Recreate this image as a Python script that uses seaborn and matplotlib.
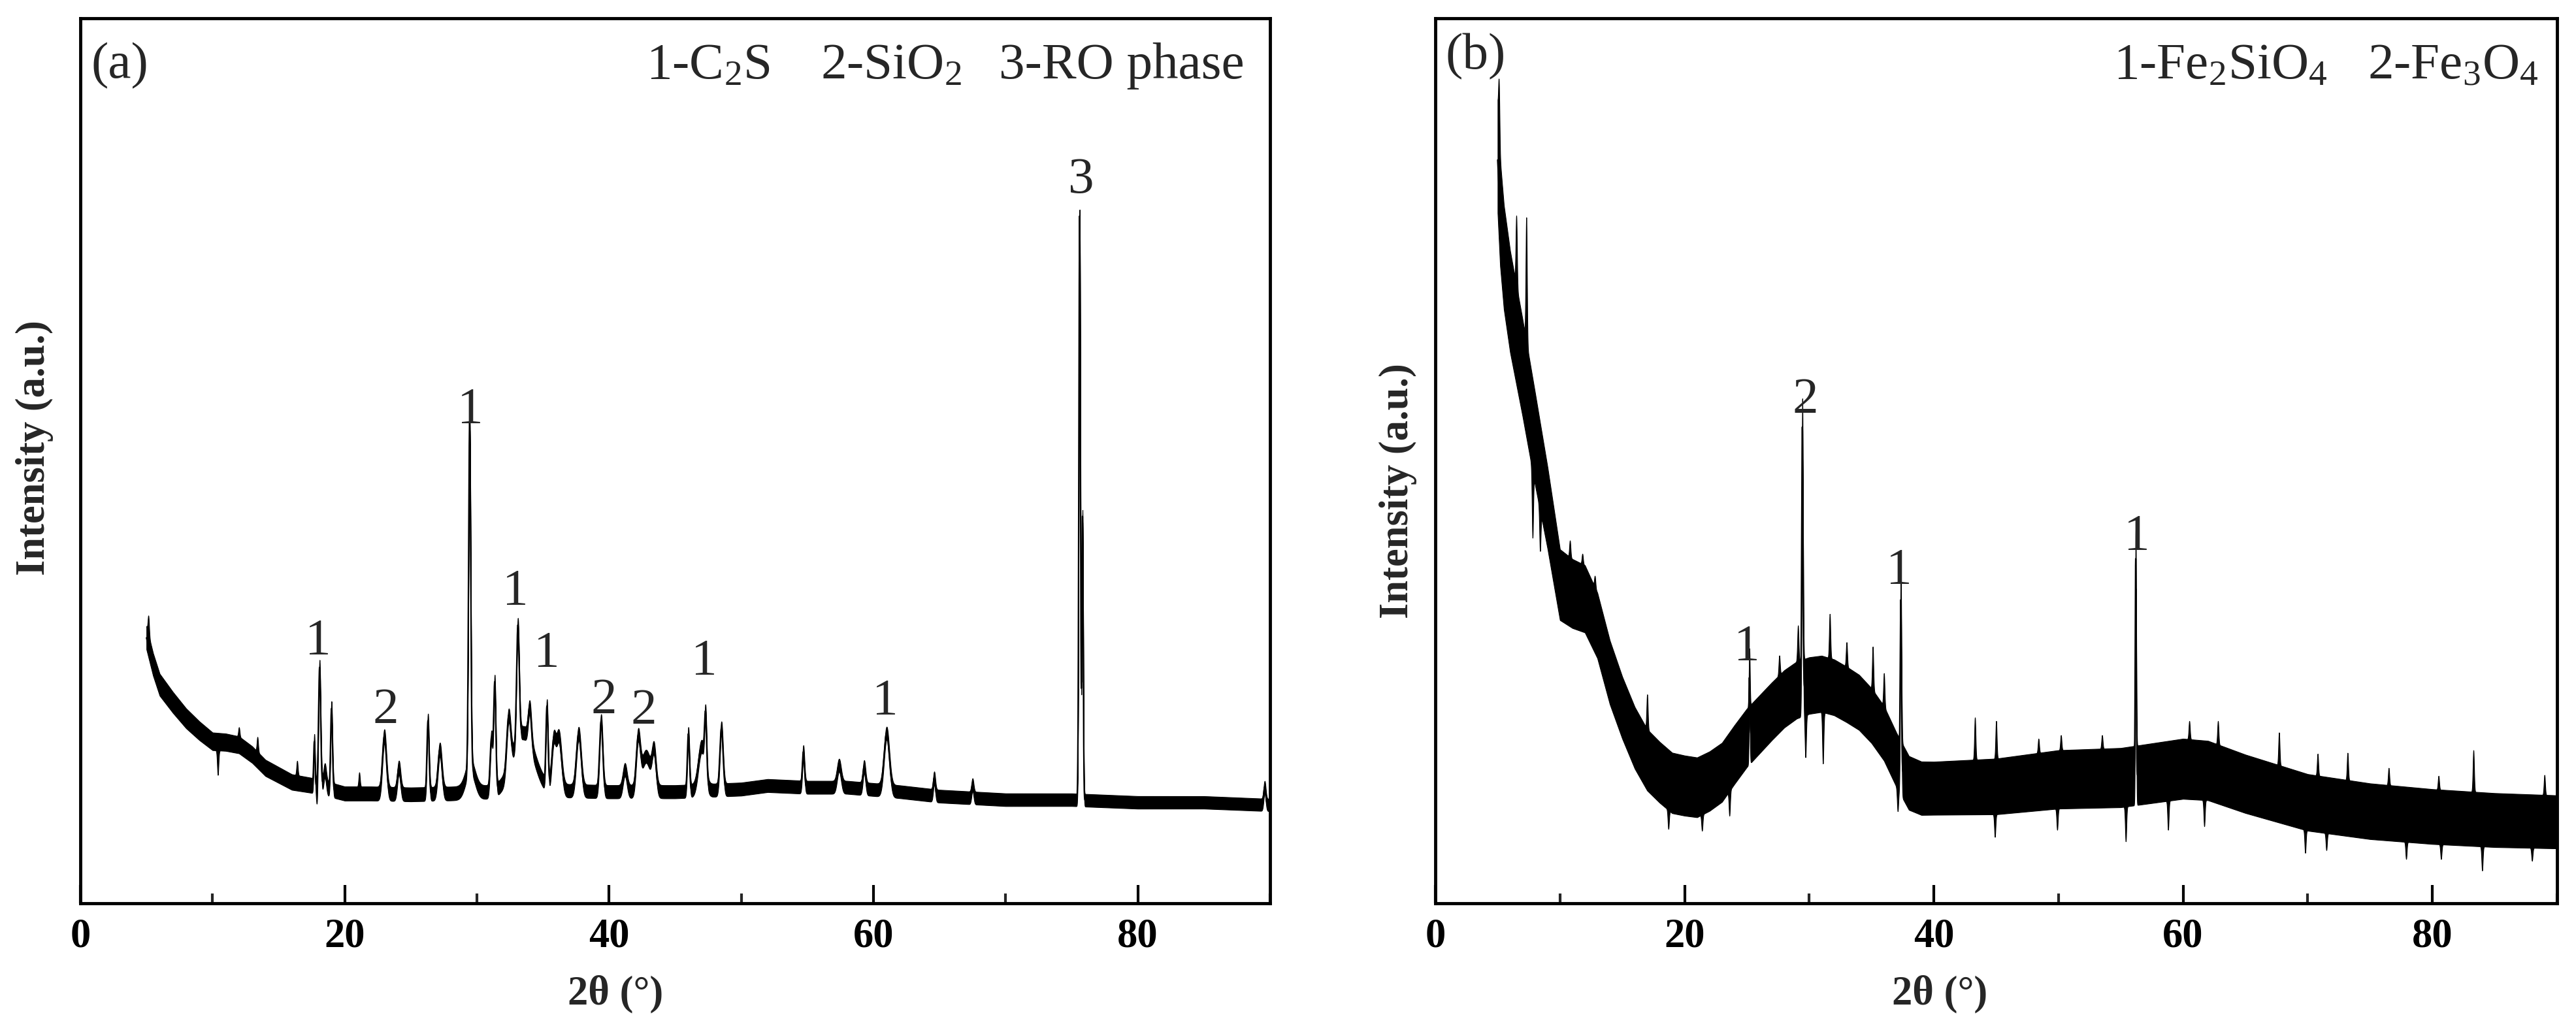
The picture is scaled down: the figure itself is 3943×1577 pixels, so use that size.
import numpy as np
import pandas as pd
import seaborn as sns
import matplotlib.pyplot as plt
from matplotlib.ticker import MultipleLocator

# ---------------- panel (a) ----------------
# baseline (centre of the noisy trace)
a_base_x = [5.0, 5.5, 6, 7, 8, 9, 10, 11, 12, 13, 14, 16, 18, 20, 22, 25, 28, 30, 34,
            40, 45, 50, 52, 55, 58, 62, 65, 70, 75, 80, 85, 90]
a_base_y = [30.0, 27.0, 24.7, 22.7, 20.9, 19.5, 18.3, 18.2, 17.9, 16.8, 15.3, 13.7,
            13.2, 12.4, 12.4, 12.3, 12.4, 12.5, 12.8, 12.6, 12.6, 12.9, 13.3, 13.1,
            13.1, 12.6, 12.1, 11.7, 11.7, 11.4, 11.4, 11.1]
a_noise_x = [5, 10, 20, 40, 90]
a_noise = [1.3, 1.0, 0.8, 0.75, 0.7]
# peaks: position (2theta), height above baseline, width
a_peak_pos = [17.7, 18.1, 18.5, 19.0, 23.0, 24.1, 26.3, 27.2, 29.45, 29.5, 31.1, 31.35,
              32.4, 33.1, 33.5, 34.0, 35.3, 35.8, 36.2, 37.7, 39.4, 41.2, 42.2, 42.8,
              43.4, 46.0, 47.0, 47.3, 48.5, 54.7, 57.4, 59.3, 61.0, 64.6, 67.5, 75.6,
              75.82, 89.6]
a_peak_h = [5.0, 13.5, 2.0, 9.2, 6.5, 3.0, 8.3, 5.0, 39.0, 3.0, 6.0, 12.0,
            6.0, 13.0, 6.5, 4.0, 9.0, 5.0, 6.0, 6.5, 8.0, 2.5, 5.5, 4.0,
            4.0, 6.5, 5.0, 6.5, 7.0, 4.0, 2.5, 2.5, 6.5, 2.0, 1.5, 66.0,
            32.0, 2.0]
a_peak_w = [0.05, 0.08, 0.1, 0.07, 0.15, 0.12, 0.08, 0.15, 0.08, 0.35, 0.1, 0.08,
            0.15, 0.1, 0.8, 0.12, 0.08, 0.15, 0.2, 0.18, 0.12, 0.15, 0.15, 0.35,
            0.15, 0.08, 0.25, 0.08, 0.12, 0.08, 0.15, 0.1, 0.2, 0.08, 0.08, 0.06,
            0.05, 0.08]
# single noise spikes: tops above / bottoms below the trace
a_up_pos = [5.15, 12.0, 13.4, 16.4, 21.1]
a_up_top = [32.5, 19.9, 18.8, 16.1, 14.8]
a_dn_pos = [10.4, 17.9]
a_dn_bot = [14.5, 11.4]
a_lab_x = [18.0, 23.1, 29.5, 32.9, 35.3, 39.6, 42.6, 47.2, 60.9, 75.7]
a_lab_y = [28.2, 20.4, 54.3, 33.8, 26.8, 21.5, 20.3, 25.9, 21.4, 80.3]
a_lab_txt = ['1', '2', '1', '1', '1', '2', '2', '1', '1', '3']
a_legend = ['1-C$_2$S', '2-SiO$_2$', '3-RO phase']
a_legend_x = [42.8, 56.0, 69.5]

# ---------------- panel (b) ----------------
b_base_x = [5.0, 5.2, 5.5, 6, 7, 8, 9, 10, 11, 12, 13, 14, 15, 16, 17, 18, 19, 20,
            21, 22, 23, 24, 25, 26, 27, 28, 29, 30, 31, 32, 33, 34, 35, 36, 37, 38,
            39, 40, 45, 50, 55, 58, 60, 62, 65, 70, 75, 80, 85, 90]
b_base_y = [84, 78, 73, 68, 60.5, 52.5, 44.7, 36.0, 35.0, 34.4, 31.4, 26.1, 22.1,
            18.7, 16.2, 14.8, 13.6, 13.3, 13.1, 13.8, 14.8, 16.8, 18.7, 20.2, 21.7,
            23.1, 24.1, 24.6, 24.8, 24.4, 23.6, 22.7, 21.2, 19.2, 16.2, 13.6, 13.0,
            13.0, 13.2, 14.0, 14.2, 14.8, 15.2, 15.0, 13.5, 11.4, 10.4, 9.8, 9.4, 9.2]
b_noise_x = [5, 8, 10, 15, 20, 30, 40, 50, 60, 70, 80, 90]
b_noise = [6.0, 5.2, 4.0, 3.5, 3.4, 3.2, 3.0, 3.3, 3.4, 3.2, 3.1, 3.0]
b_peak_pos = [25.2, 29.45, 37.35, 56.2]
b_peak_h = [6.5, 29.5, 19.0, 24.5]
b_peak_w = [0.04, 0.05, 0.05, 0.04]
b_up_pos = [5.1, 6.5, 7.3, 10.8, 11.8, 12.8, 14.1, 17.0, 27.6, 29.1, 31.65, 33.0,
            35.1, 36.0, 43.3, 45.0, 48.4, 50.2, 53.5, 60.5, 62.8, 67.7, 70.8, 73.2,
            76.5, 80.5, 83.3, 89.0]
b_up_top = [93.0, 77.7, 77.5, 41.0, 39.5, 37.0, 28.5, 23.6, 28.0, 31.4, 32.7, 29.5,
            29.0, 26.0, 21.0, 20.6, 18.6, 19.0, 19.0, 20.6, 20.6, 19.3, 16.9, 17.0,
            15.3, 14.4, 17.3, 14.5]
b_dn_pos = [7.8, 8.4, 18.7, 21.4, 23.6, 29.7, 31.1, 37.1, 44.9, 49.9, 55.4, 58.8,
            61.7, 69.8, 71.5, 77.9, 80.7, 84.0, 88.0]
b_dn_bot = [41.3, 39.8, 8.4, 8.2, 9.9, 16.5, 15.8, 10.4, 7.5, 8.3, 7.0, 8.3,
            8.7, 5.7, 6.0, 5.0, 5.0, 3.7, 4.8]
b_lab_x = [25.0, 29.7, 37.2, 56.3]
b_lab_y = [27.5, 55.4, 36.2, 40.0]
b_lab_txt = ['1', '2', '1', '1']
b_legend = ['1-Fe$_2$SiO$_4$', '2-Fe$_3$O$_4$']
b_legend_x = [54.4, 74.8]

x_ticks = [0, 20, 40, 60, 80]
x_tick_labels = ['0', '20', '40', '60', '80']


def build_pattern(base_x, base_y, noise_x, noise, pos, h, w, up_pos, up_top, dn_pos, dn_bot):
    tt = np.arange(5.0, 90.0001, 0.01)
    y = np.interp(tt, base_x, base_y)
    for p, hh, ww in zip(pos, h, w):
        y = y + hh * np.exp(-0.5 * ((tt - p) / ww) ** 2)
    amp = np.interp(tt, noise_x, noise)
    hi = y + amp
    lo = y - amp
    # isolated spikes sticking out of the noise band
    for p, top in zip(up_pos, up_top):
        g = np.exp(-0.5 * ((tt - p) / 0.05) ** 2)
        hi = hi + max(top - np.interp(p, tt, hi), 0) * g
    for p, bot in zip(dn_pos, dn_bot):
        g = np.exp(-0.5 * ((tt - p) / 0.05) ** 2)
        lo = lo - max(np.interp(p, tt, lo) - bot, 0) * g
    return pd.DataFrame({'two_theta': tt, 'intensity': y, 'lo': lo, 'hi': hi})


sns.set_theme(style='white')
plt.rcParams['font.family'] = ['Liberation Serif', 'DejaVu Serif']
plt.rcParams['mathtext.fontset'] = 'custom'
plt.rcParams['mathtext.rm'] = 'Liberation Serif'
plt.rcParams['mathtext.it'] = 'Liberation Serif:italic'
plt.rcParams['mathtext.bf'] = 'Liberation Serif:bold'

fig = plt.figure(figsize=(39.43, 15.77), dpi=100)
ax_a = fig.add_axes([0.0312, 0.1230, 0.4618, 0.8592])
ax_b = fig.add_axes([0.5572, 0.1230, 0.4354, 0.8592])

df_a = build_pattern(a_base_x, a_base_y, a_noise_x, a_noise, a_peak_pos, a_peak_h, a_peak_w,
                     a_up_pos, a_up_top, a_dn_pos, a_dn_bot)
df_b = build_pattern(b_base_x, b_base_y, b_noise_x, b_noise, b_peak_pos, b_peak_h, b_peak_w,
                     b_up_pos, b_up_top, b_dn_pos, b_dn_bot)

panels = [
    (ax_a, df_a, '(a)', 93.3, a_lab_x, a_lab_y, a_lab_txt, a_legend, a_legend_x, (-0.0384, 0.515)),
    (ax_b, df_b, '(b)', 94.3, b_lab_x, b_lab_y, b_lab_txt, b_legend, b_legend_x, (-0.0332, 0.466)),
]

for ax, df, tag, tag_y, lx, ly, lt, leg, leg_x, ylab_pos in panels:
    ax.fill_between(df['two_theta'], df['lo'], df['hi'], color='black', lw=0.8)
    sns.lineplot(data=df, x='two_theta', y='intensity', ax=ax, color='black',
                 lw=1.6, estimator=None, sort=False)

    ax.set_xlim(0, 90)
    ax.set_ylim(0, 100)
    ax.set_xticks(x_ticks, labels=x_tick_labels, fontweight='bold')
    ax.xaxis.set_minor_locator(MultipleLocator(10))
    ax.tick_params(axis='x', which='major', direction='in', length=20, width=3,
                   labelsize=45, pad=16, colors='black', bottom=True, top=False)
    ax.tick_params(axis='x', which='minor', direction='in', length=11, width=3,
                   bottom=True, top=False)
    ax.tick_params(axis='y', left=False, labelleft=False)
    for sp in ax.spines.values():
        sp.set_color('black')
        sp.set_linewidth(3.5)

    ax.set_xlabel('2θ (°)', fontsize=45, fontweight='bold', va='center')
    ax.xaxis.set_label_coords(0.45, -0.1026)
    ax.set_ylabel('Intensity (a.u.)', fontsize=45, fontweight='bold', va='center')
    ax.yaxis.set_label_coords(*ylab_pos)

    ax.text(0.8, tag_y, tag, fontsize=57, ha='left', va='baseline')
    for x0, txt in zip(leg_x, leg):
        ax.text(x0, 93.2, txt, fontsize=57, ha='left', va='baseline')
    for x0, y0, txt in zip(lx, ly, lt):
        ax.text(x0, y0, txt, fontsize=57, ha='center', va='baseline')

fig.savefig('out.png', dpi=100, facecolor='white')
